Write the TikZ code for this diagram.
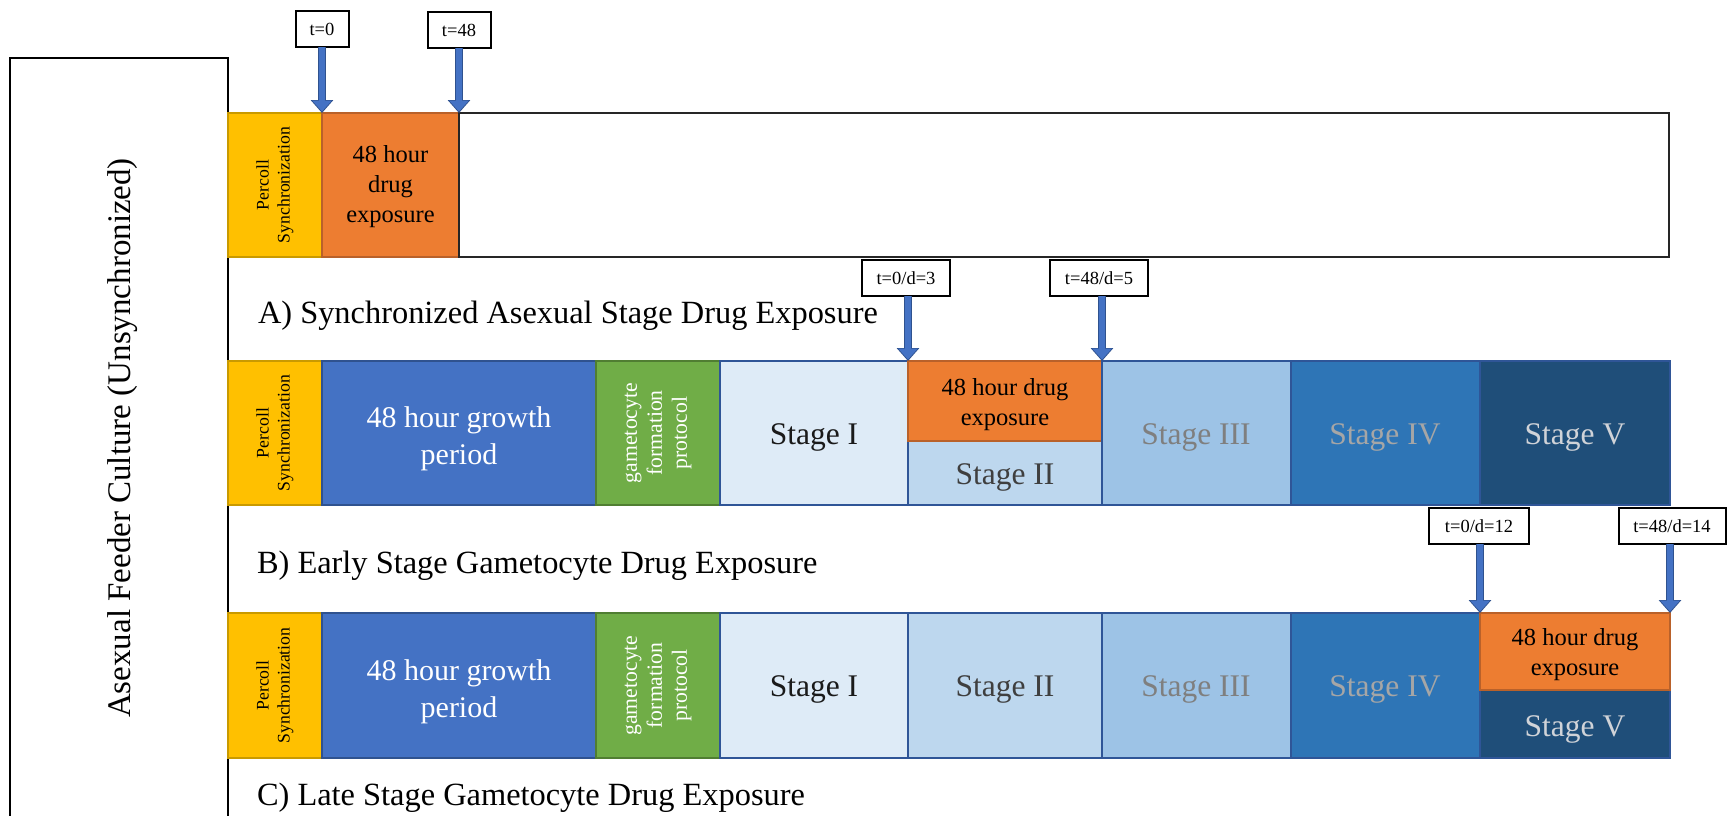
\documentclass[tikz,border=0pt]{standalone}
\usepackage{fontspec}
\setmainfont{Liberation Serif}
\usetikzlibrary{arrows.meta}
\definecolor{cPerc}{HTML}{FFC000}
\definecolor{cPercB}{HTML}{C99A00}
\definecolor{cOrg}{HTML}{ED7D31}
\definecolor{cOrgB}{HTML}{B9612A}
\definecolor{cGrow}{HTML}{4472C4}
\definecolor{cGrowB}{HTML}{2F528F}
\definecolor{cGreen}{HTML}{70AD47}
\definecolor{cGreenB}{HTML}{507E32}
\definecolor{cSa}{HTML}{DEEBF7}
\definecolor{cSb}{HTML}{BDD7EE}
\definecolor{cSc}{HTML}{9DC3E6}
\definecolor{cSd}{HTML}{2E75B6}
\definecolor{cSe}{HTML}{1F4E79}
\definecolor{cSB}{HTML}{2F5597}
\definecolor{cArrow}{HTML}{4472C4}
\definecolor{cArrowB}{HTML}{2F528F}
\definecolor{tSa}{HTML}{1A1A1A}
\definecolor{tSb}{HTML}{3F3F3F}
\definecolor{tSc}{HTML}{7F7F7F}
\definecolor{tSd}{HTML}{A6A6A6}
\definecolor{tSe}{HTML}{D0D3D8}
\newcommand\myfcap{\fontsize{32.4}{38}\selectfont}
\newcommand\myfstage{\fontsize{31.5}{36}\selectfont}
\newcommand\myfgrow{\fontsize{30}{37}\selectfont}
\newcommand\myfdrugA{\fontsize{24.5}{30}\selectfont}
\newcommand\myfdrug{\fontsize{24.5}{30}\selectfont}
\newcommand\myfperc{\fontsize{17.7}{21}\selectfont}
\newcommand\myfgam{\fontsize{21.7}{25}\selectfont}
\newcommand\myflab{\fontsize{18.5}{22}\selectfont}
\newcommand\myfside{\fontsize{33}{40}\selectfont}
\begin{document}
\begin{tikzpicture}[x=1pt,y=-1pt,
  every node/.style={inner sep=0pt, outer sep=0pt},
  bx/.style 2 args={anchor=north west, minimum width=#1pt, minimum height=#2pt, line width=1.5pt},
  percbox/.style={fill=cPerc, draw=cPercB},
  drugbox/.style={fill=cOrg, draw=cOrgB},
  growbox/.style={fill=cGrow, draw=cGrowB},
  gambox/.style={fill=cGreen, draw=cGreenB},
  stabox/.style={fill=cSa, draw=cSB},
  stbbox/.style={fill=cSb, draw=cSB},
  stcbox/.style={fill=cSc, draw=cSB},
  stdbox/.style={fill=cSd, draw=cSB},
  stebox/.style={fill=cSe, draw=cSB},
  percText/.style={rotate=90, align=center, font=\myfperc, text=black},
  gamText/.style={rotate=90, align=center, font=\myfgam, text=white},
  growText/.style={align=center, font=\myfgrow, text=white},
  drugText/.style={align=center, font=\myfdrug, text=black},
  stText/.style={anchor=base, font=\myfstage},
  capText/.style={anchor=base west, font=\myfcap},
  timelab/.style={draw=black, fill=white, line width=2pt, font=\myflab, minimum height=36pt},
  bluearrow/.style={line width=6.5pt, draw=cArrow, shorten >=1.5pt,
     -{Triangle[width=19pt,length=11pt]},
     preaction={draw=cArrowB, line width=8.5pt, shorten >=0pt, -{Triangle[width=22pt,length=13pt]}}}
]
\useasboundingbox (0,0) rectangle (1730,816);
\fill[white] (0,0) rectangle (1730,816);

% left feeder culture box
\node[bx={218}{760}, draw=black, line width=1.5pt] (feeder) at (10,58) {};
\node[rotate=90, font=\myfside] (feedtxt) at (123,438) {Asexual Feeder Culture (Unsynchronized)};

% ---------- Row A ----------
\node[bx={94}{144}, percbox] (percA) at (228,113) {};
\node[bx={137}{144}, drugbox] (drugA) at (322,113) {};
\node[bx={1210}{144}, fill=white, draw=black!85, line width=2pt] (restA) at (459,113) {};
\node[percText] (percAt) at (percA.center) {Percoll\\Synchronization};
\node[align=center, font=\myfdrugA, text=black] (drugAt) at ([yshift=-2pt]drugA.center) {48 hour\\drug\\exposure};
\node[capText] (capA) at (258,323) {A) Synchronized Asexual Stage Drug Exposure};

% ---------- Row B ----------
\node[bx={94}{144}, percbox] (percB) at (228,361) {};
\node[bx={274}{144}, growbox] (growB) at (322,361) {};
\node[bx={124}{144}, gambox] (gamB) at (596,361) {};
\node[bx={188}{144}, stabox] (s1B) at (720,361) {};
\node[bx={194}{64}, stbbox] (s2B) at (908,441) {};
\node[bx={194}{80}, drugbox] (drugB) at (908,361) {};
\node[bx={189}{144}, stcbox] (s3B) at (1102,361) {};
\node[bx={189}{144}, stdbox] (s4B) at (1291,361) {};
\node[bx={190}{144}, stebox] (s5B) at (1480,361) {};
\node[percText] (percBt) at (percB.center) {Percoll\\Synchronization};
\node[growText] (growBt) at ([yshift=-6pt]growB.center) {48 hour growth\\period};
\node[gamText] (gamBt) at (gamB.center) {gametocyte\\formation\\protocol};
\node[stText, text=tSa] (s1Bt) at (814,444) {Stage I};
\node[drugText] (drugBt) at ([yshift=-4pt]drugB.center) {48 hour drug\\exposure};
\node[stText, text=tSb] (s2Bt) at (1005,484) {Stage II};
\node[stText, text=tSc] (s3Bt) at (1196,444) {Stage III};
\node[stText, text=tSd] (s4Bt) at (1385,444) {Stage IV};
\node[stText, text=tSe] (s5Bt) at (1575,444) {Stage V};
\node[capText] (capB) at (257,573) {B) Early Stage Gametocyte Drug Exposure};

% ---------- Row C ----------
\node[bx={94}{145}, percbox] (percC) at (228,613) {};
\node[bx={274}{145}, growbox] (growC) at (322,613) {};
\node[bx={124}{145}, gambox] (gamC) at (596,613) {};
\node[bx={188}{145}, stabox] (s1C) at (720,613) {};
\node[bx={194}{145}, stbbox] (s2C) at (908,613) {};
\node[bx={189}{145}, stcbox] (s3C) at (1102,613) {};
\node[bx={189}{145}, stdbox] (s4C) at (1291,613) {};
\node[bx={190}{68}, stebox] (s5C) at (1480,690) {};
\node[bx={190}{77}, drugbox] (drugC) at (1480,613) {};
\node[percText] (percCt) at (percC.center) {Percoll\\Synchronization};
\node[growText] (growCt) at ([yshift=-6pt]growC.center) {48 hour growth\\period};
\node[gamText] (gamCt) at (gamC.center) {gametocyte\\formation\\protocol};
\node[stText, text=tSa] (s1Ct) at (814,696) {Stage I};
\node[stText, text=tSb] (s2Ct) at (1005,696) {Stage II};
\node[stText, text=tSc] (s3Ct) at (1196,696) {Stage III};
\node[stText, text=tSd] (s4Ct) at (1385,696) {Stage IV};
\node[drugText] (drugCt) at ([yshift=-3pt]drugC.center) {48 hour drug\\exposure};
\node[stText, text=tSe] (s5Ct) at (1575,736) {Stage V};
\node[capText] (capC) at (257,805) {C) Late Stage Gametocyte Drug Exposure};

% ---------- time labels ----------
\node[timelab, minimum width=53pt] (lt0) at (322,29.5) {t=0};
\node[timelab, minimum width=63pt] (lt48) at (459,30.5) {t=48};
\node[timelab, minimum width=88pt] (ld3) at (906,278) {t=0/d=3};
\node[timelab, minimum width=98pt] (ld5) at (1099,278) {t=48/d=5};
\node[timelab, minimum width=100pt] (ld12) at (1479,526) {t=0/d=12};
\node[timelab, minimum width=107pt] (ld14) at (1672,526) {t=48/d=14};

% ---------- arrows ----------
\draw[bluearrow] (lt0.south -| drugA.north west) -- (drugA.north west);
\draw[bluearrow] (lt48.south -| drugA.north east) -- (drugA.north east);
\draw[bluearrow] (ld3.south -| drugB.north west) -- (drugB.north west);
\draw[bluearrow] (ld5.south -| drugB.north east) -- (drugB.north east);
\draw[bluearrow] (ld12.south -| drugC.north west) -- (drugC.north west);
\draw[bluearrow] (ld14.south -| drugC.north east) -- (drugC.north east);
\end{tikzpicture}
\end{document}
